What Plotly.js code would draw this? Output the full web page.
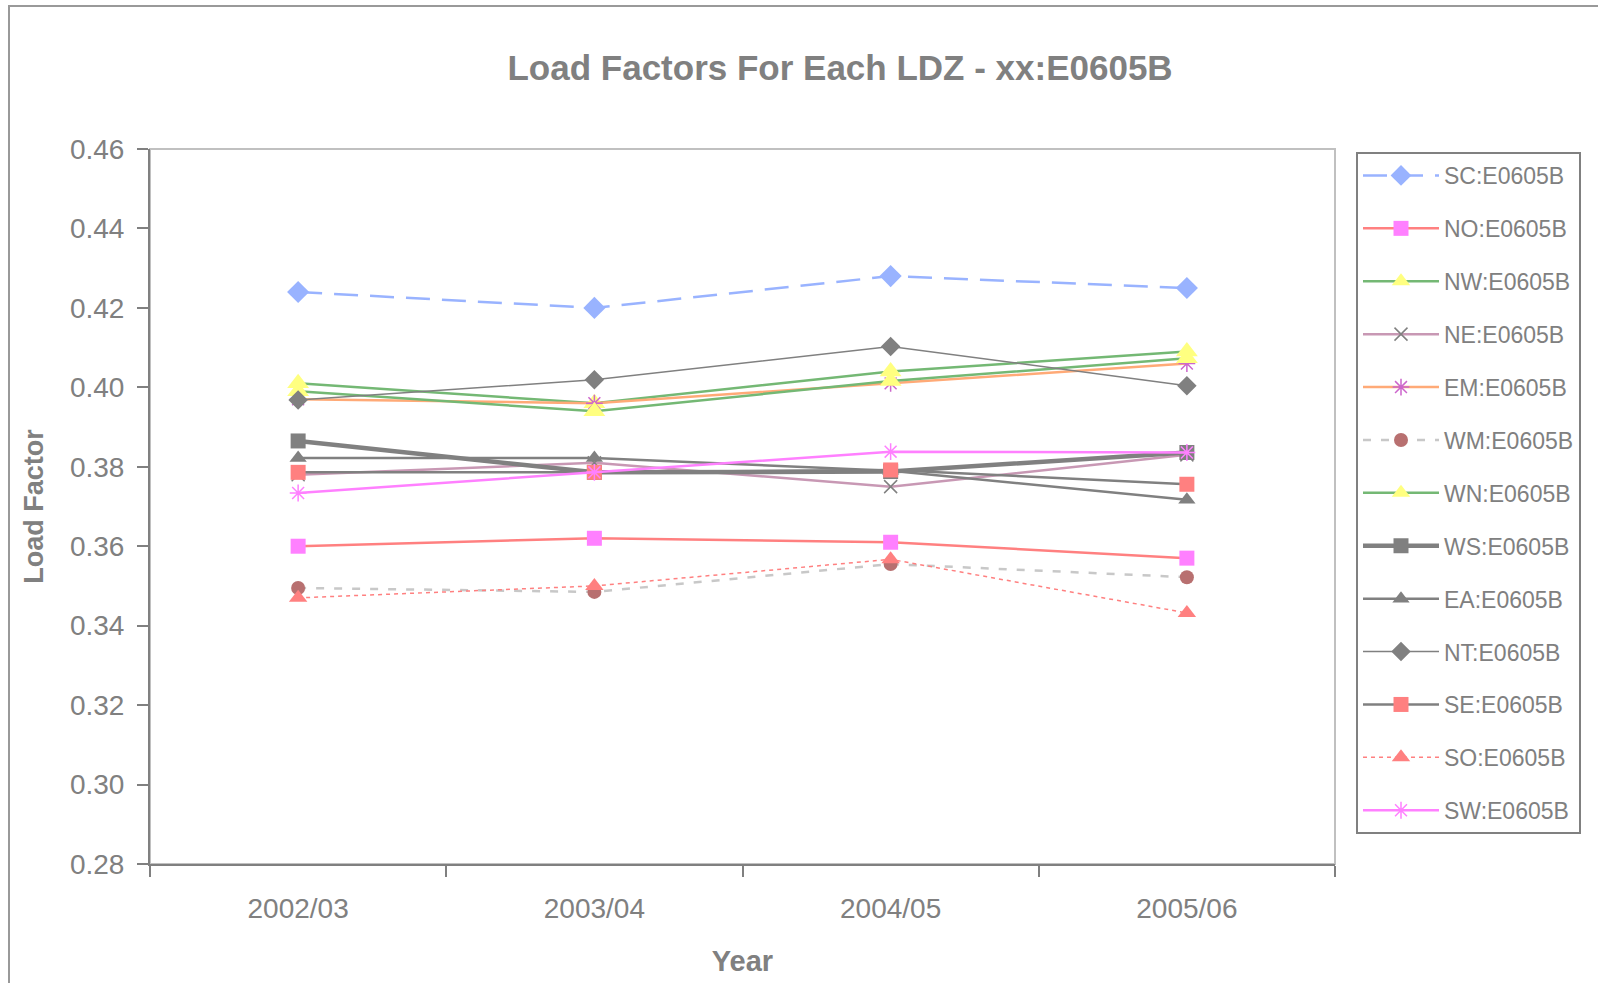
<!DOCTYPE html>
<html>
<head>
<meta charset="utf-8">
<script src="https://cdn.plot.ly/plotly-3.0.1.min.js"></script>
<style>
  html, body { margin: 0; padding: 0; background: #ffffff; }
  #wrap { position: relative; width: 1598px; height: 983px; }
  #chart { width: 1598px; height: 983px; }
  #frame { position: absolute; left: 8px; top: 5px; right: 0; bottom: 0;
           border-left: 2px solid #999999; border-top: 2px solid #999999; pointer-events: none; }
</style>
</head>
<body>
<div id="wrap">
  <div id="chart"></div>
  <div id="frame"></div>
</div>
<script>
// ---- data ----
const years = ["2002/03", "2003/04", "2004/05", "2005/06"];
const SC = [0.424, 0.420, 0.428, 0.425];
const NO = [0.360, 0.362, 0.361, 0.357];
const NW = [0.401, 0.396, 0.404, 0.409];
const NE = [0.378, 0.381, 0.375, 0.383];
const EM = [0.397, 0.396, 0.401, 0.406];
const WM = [0.3495, 0.3485, 0.3555, 0.3522];
const WN = [0.399, 0.394, 0.4016, 0.4073];
const WS = [0.3865, 0.3786, 0.3788, 0.3836];
const EA = [0.3822, 0.3822, 0.379, 0.3717];
const NT = [0.3968, 0.4019, 0.4103, 0.4004];
const SE = [0.3786, 0.3786, 0.3792, 0.3756];
const SO = [0.347, 0.350, 0.3567, 0.3432];
const SW = [0.3734, 0.3786, 0.3838, 0.3836];
const yTicks = [0.28, 0.30, 0.32, 0.34, 0.36, 0.38, 0.40, 0.42, 0.44, 0.46];

const series = [
  {name: "SC:E0605B", y: SC, line: {color: "#99B3FF", width: 2.5, dash: "24px,12px"}, marker: {symbol: "diamond", size: 17, color: "#99B3FF"}},
  {name: "NO:E0605B", y: NO, line: {color: "#FF8080", width: 2.5}, marker: {symbol: "square", size: 15, color: "#FF80FF"}},
  {name: "NW:E0605B", y: NW, line: {color: "#74B874", width: 2.5}, marker: {symbol: "triangle-up", size: 19, color: "#FFFF80"}},
  {name: "NE:E0605B", y: NE, line: {color: "#C898B4", width: 2.5}, marker: {symbol: "x-thin-open", size: 13, color: "#808080", line: {width: 1.5, color: "#808080"}}},
  {name: "EM:E0605B", y: EM, line: {color: "#FFAA77", width: 2.5}, marker: {symbol: "asterisk-open", size: 14, color: "#CC66CC", line: {width: 1.5, color: "#CC66CC"}}},
  {name: "WM:E0605B", y: WM, line: {color: "#C8C8C8", width: 2.5, dash: "8px,10px"}, marker: {symbol: "circle", size: 14, color: "#B87070"}},
  {name: "WN:E0605B", y: WN, line: {color: "#74B874", width: 2.5}, marker: {symbol: "triangle-up", size: 19, color: "#FFFF80"}},
  {name: "WS:E0605B", y: WS, line: {color: "#808080", width: 4.5}, marker: {symbol: "square", size: 15, color: "#808080"}},
  {name: "EA:E0605B", y: EA, line: {color: "#808080", width: 2.5}, marker: {symbol: "triangle-up", size: 15, color: "#808080"}},
  {name: "NT:E0605B", y: NT, line: {color: "#808080", width: 1.5}, marker: {symbol: "diamond", size: 15, color: "#808080"}},
  {name: "SE:E0605B", y: SE, line: {color: "#808080", width: 2.5}, marker: {symbol: "square", size: 15, color: "#FF8080"}},
  {name: "SO:E0605B", y: SO, line: {color: "#FF8080", width: 1.5, dash: "4px,4px"}, marker: {symbol: "triangle-up", size: 16, color: "#FF8080"}},
  {name: "SW:E0605B", y: SW, line: {color: "#FF80FF", width: 2.5}, marker: {symbol: "asterisk-open", size: 14, color: "#FF80FF", line: {width: 1.5, color: "#FF80FF"}}}
];

const traces = series.map((s, i) => ({
  type: "scatter",
  mode: "lines+markers",
  x: years,
  y: s.y,
  name: s.name,
  legendgroup: "g" + i,
  line: s.line,
  marker: s.marker
}));

const FONT = "Liberation Sans, Arial, sans-serif";
const GREY = "#808080";

const layout = {
  width: 1598,
  height: 983,
  paper_bgcolor: "#ffffff",
  plot_bgcolor: "#ffffff",
  margin: {l: 150, r: 263, t: 149, b: 119, pad: 0},
  font: {family: FONT, color: GREY},
  title: {
    text: "<b>Load Factors For Each LDZ - xx:E0605B</b>",
    font: {family: FONT, size: 35, color: GREY},
    x: 0.5257, xref: "container", xanchor: "center",
    y: 1 - 68 / 983, yref: "container", yanchor: "middle"
  },
  xaxis: {
    type: "category",
    range: [-0.5, 3.5],
    tickson: "boundaries",
    ticks: "outside", ticklen: 11, tickwidth: 2, tickcolor: GREY,
    showline: true, linecolor: GREY, linewidth: 2,
    showgrid: false, zeroline: false,
    tickfont: {family: FONT, size: 28, color: GREY},
    ticklabelstandoff: 18,
    title: {text: "<b>Year</b>", font: {family: FONT, size: 29, color: GREY}, standoff: 28}
  },
  yaxis: {
    range: [0.28, 0.46],
    tickvals: yTicks,
    tickformat: ".2f",
    ticks: "outside", ticklen: 11, tickwidth: 2, tickcolor: GREY,
    showline: true, linecolor: GREY, linewidth: 2,
    showgrid: false, zeroline: false,
    tickfont: {family: FONT, size: 28, color: GREY},
    ticklabelstandoff: 7,
    title: {text: "<b>Load Factor</b>", font: {family: FONT, size: 27, color: GREY}, standoff: 18}
  },
  legend: {
    x: (1356 - 150) / 1185, xref: "paper", xanchor: "left",
    y: 1 - (152 - 149) / 715, yref: "paper", yanchor: "top",
    bordercolor: GREY, borderwidth: 2, bgcolor: "#ffffff",
    font: {family: FONT, size: 23, color: GREY},
    traceorder: "grouped",
    tracegroupgap: 20,
    itemwidth: 76,
    itemsizing: "trace"
  },
  shapes: [{
    type: "rect", xref: "paper", yref: "paper", x0: 0, x1: 1, y0: 0, y1: 1,
    line: {color: "#C0C0C0", width: 2}, layer: "below"
  }],
  showlegend: true
};

Plotly.newPlot("chart", traces, layout, {displayModeBar: false, staticPlot: true});
</script>
</body>
</html>
